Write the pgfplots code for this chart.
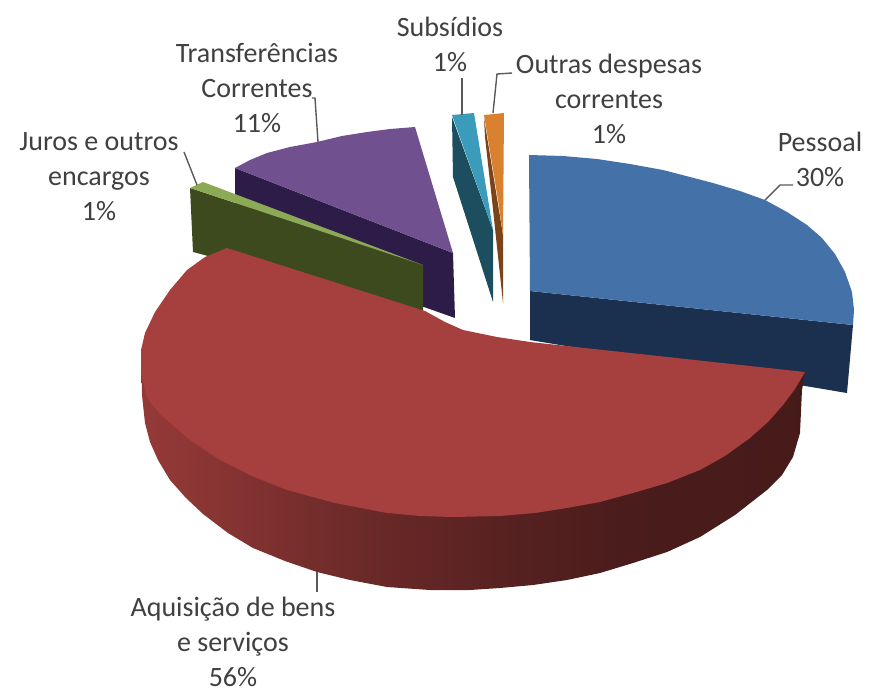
\documentclass[border=0pt]{standalone}
\usepackage{fontspec}
\setmainfont{Carlito}
\usepackage{pgfplots}
\pgfplotsset{compat=1.18}
\definecolor{pessoal}{HTML}{4571A9}
\definecolor{pessoalside}{HTML}{1B2F4E}
\definecolor{aquis}{HTML}{A5403E}
\definecolor{juros}{HTML}{8CAA55}
\definecolor{jurosside}{HTML}{3D4A1E}
\definecolor{transf}{HTML}{71508F}
\definecolor{transfside}{HTML}{2C1C47}
\definecolor{subs}{HTML}{3B9BBB}
\definecolor{subsside}{HTML}{1C4E60}
\definecolor{outras}{HTML}{D9812F}
\definecolor{outrasside}{HTML}{7A441A}
\definecolor{leader}{HTML}{5A5A5A}
\definecolor{labeltext}{HTML}{404040}
\tikzset{lbl/.style={font=\fontsize{14}{17.5}\selectfont, text=labeltext, align=center, inner sep=0pt}}
% side of the big slice: lighter on the left, dark from about 2/3 on
\pgfdeclarehorizontalshading{aquisside}{100bp}{
  color(0bp)=(aquis!90!black);
  color(25bp)=(aquis!90!black);
  color(29bp)=(aquis!85!black);
  color(37bp)=(aquis!72!black);
  color(44bp)=(aquis!62!black);
  color(53bp)=(aquis!52!black);
  color(61bp)=(aquis!45!black);
  color(75bp)=(aquis!42!black);
  color(100bp)=(aquis!42!black)}
\begin{document}
\begin{tikzpicture}
\begin{axis}[
  scale only axis,
  width=434.5pt,
  height=346pt,
  xmin=0, xmax=869,
  ymin=0, ymax=692,
  y dir=reverse,
  hide axis,
  clip=false,
  every axis plot/.append style={draw=none},
]
% hide axis drops the frame from the page size, so keep it with an empty path
\path (axis cs:0,0) rectangle (axis cs:869,692);
% Pessoal
\addplot[fill=pessoalside] coordinates {(530,291) (853,325) (847,393) (530,340)} -- cycle;
\addplot[fill=pessoal] coordinates {(529,155) (563,156) (597,159) (630,164) (663,170) (690,177) (713,183) (740,191) (765,200) (787,212) (807,225) (822,238) (835,254) (845,272) (852,292) (854,310) (853,325) (530,291)} -- cycle;
% Transferencias correntes
\addplot[fill=transfside] coordinates {(235,168) (453,253) (455,318) (235,240)} -- cycle;
\addplot[fill=transf] coordinates {(235,168) (250,160) (267,153) (290,147) (317,142) (342,136) (367,132) (390,129) (415,127) (453,253)} -- cycle;
% Juros e outros encargos
\addplot[fill=jurosside] coordinates {(190,188) (423,265) (423,313) (193,252)} -- cycle;
\addplot[fill=juros] coordinates {(190,188) (203,182) (423,265)} -- cycle;
% Subsidios
\addplot[fill=subsside] coordinates {(452,117) (453,177) (493,302) (493,230)} -- cycle;
\addplot[fill=subs] coordinates {(452,115) (474,113) (493,230)} -- cycle;
% Outras despesas correntes
\addplot[fill=outrasside] coordinates {(484,118) (485,137) (492,200) (503,303) (503,235)} -- cycle;
\addplot[fill=outras] coordinates {(484,115) (504,113) (503,235) (498,200)} -- cycle;
% Aquisicao de bens e servicos
\addplot[shading=aquisside] coordinates {(805,372) (802,390) (800,433) (793,457) (782,475) (767,490) (735,515) (700,537) (667,552) (633,563) (600,573) (567,580) (533,585) (500,588) (470,590) (430,590) (387,587) (350,580) (317,572) (285,561) (253,548) (228,533) (203,514) (186,498) (170,480) (158,460) (150,442) (145,423) (142,395) (141,350)} -- cycle;
\addplot[fill=aquis] coordinates {(227,248) (205,257) (187,270) (170,290) (155,312) (145,333) (141,350) (141,372) (146,395) (153,406) (163,417) (190,440) (220,460) (252,476) (287,490) (335,503) (387,513) (420,516) (453,517) (500,516) (535,513) (567,508) (600,502) (633,493) (667,483) (700,470) (725,456) (750,438) (768,422) (783,405) (795,389) (805,372) (530,342) (497,337) (463,330) (445,322) (425,311)} -- cycle;
% leader lines
\addplot[draw=leader, line width=0.7pt] coordinates {(312,98) (315,98) (318,142)};
\addplot[draw=leader, line width=0.7pt] coordinates {(184,152) (197,185)};
\addplot[draw=leader, line width=0.7pt] coordinates {(462,78) (462,115)};
\addplot[draw=leader, line width=0.7pt] coordinates {(512,73) (497,74) (493,113)};
\addplot[draw=leader, line width=0.7pt] coordinates {(793,185) (780,185) (765,200)};
\addplot[draw=leader, line width=0.7pt] coordinates {(317,572) (317,592)};
% labels
\node[lbl] at (axis cs:257,88) {Transferências\\Correntes\\11\%};
\node[lbl] at (axis cs:450,44) {Subsídios\\1\%};
\node[lbl] at (axis cs:609,99) {Outras despesas\\correntes\\1\%};
\node[lbl] at (axis cs:820,159) {Pessoal\\30\%};
\node[lbl] at (axis cs:99,177) {Juros e outros\\encargos\\1\%};
\node[lbl] at (axis cs:233,642) {Aquisição de bens\\e serviços\\56\%};
\end{axis}
\end{tikzpicture}
\end{document}
